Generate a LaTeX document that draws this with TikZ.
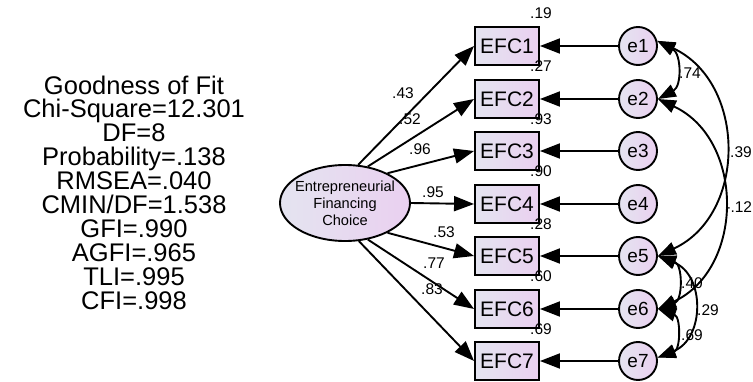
\documentclass[tikz,border=0pt]{standalone}
\usepackage{fontspec}
\setmainfont{Liberation Sans}
\usetikzlibrary{arrows.meta,shapes.geometric}
\definecolor{shadeL}{RGB}{228,228,240}
\definecolor{shadeR}{RGB}{234,208,240}
\begin{document}
\begin{tikzpicture}[x=1pt,y=1pt,line width=1.9pt,
  obs/.style={draw, rectangle, minimum width=64pt, minimum height=38pt, inner sep=0pt,
    left color=shadeL, right color=shadeR, font=\fontsize{21}{21}\selectfont},
  err/.style={draw, circle, minimum size=38pt, inner sep=0pt,
    left color=shadeL, right color=shadeR, font=\fontsize{19}{19}\selectfont},
  lat/.style={draw, ellipse, minimum width=130pt, minimum height=76pt, inner sep=0pt,
    left color=shadeL, right color=shadeR},
  lattext/.style={align=center, inner sep=0pt, font=\fontsize{14.6}{17}\selectfont},
  num/.style={inner sep=0pt, font=\fontsize{15.5}{15.5}\selectfont},
  fit/.style={align=center, inner sep=0pt, font=\fontsize{25.5}{23.9}\selectfont},
  pathar/.style={-{Triangle[length=20pt,width=15pt]}},
  covar/.style={{Triangle[length=18pt,width=13pt]}-{Triangle[length=18pt,width=13pt]}}
]
\useasboundingbox (0,0) rectangle (753,381);

% goodness of fit
\node[fit] (gof) at (134,188.5) {Goodness of Fit\\Chi-Square=12.301\\DF=8\\Probability=.138\\RMSEA=.040\\CMIN/DF=1.538\\GFI=.990\\AGFI=.965\\TLI=.995\\CFI=.998};

% latent
\node[lat] (F) at (345,178) {};
\node[lattext] (Ftext) at (F.center) {Entrepreneurial\\Financing\\Choice};

% observed and errors
\foreach \i/\y in {1/335,2/282,3/230,4/177,5/125,6/72,7/20}{
  \node[obs] (b\i) at (507,\y) {EFC\i};
  \node[err] (e\i) at (638,\y) {e\i};
  \draw[pathar] (e\i) -- (b\i);
}

% loadings
\foreach \i/\a in {1/71,2/58,3/35,4/0,5/-35,6/-58,7/-70}{
  \draw[pathar] (F.\a) -- (b\i.west);
}

% loading labels
\node[num] (l1) at (403,288) {.43};
\node[num] (l2) at (410,262) {.52};
\node[num] (l3) at (420,232) {.96};
\node[num] (l4) at (433,189) {.95};
\node[num] (l5) at (444,149) {.53};
\node[num] (l6) at (434,118) {.77};
\node[num] (l7) at (432,92) {.83};

% squared multiple correlations
\node[num] (r1) at (541,368) {.19};
\node[num] (r2) at (541,315) {.27};
\node[num] (r3) at (541,262) {.93};
\node[num] (r4) at (541,210) {.90};
\node[num] (r5) at (541,157) {.28};
\node[num] (r6) at (541,105) {.60};
\node[num] (r7) at (541,52) {.69};

% covariances
\draw[covar] (e1.15) to[out=-28,in=28,looseness=1.2] (e2.0);
\draw[covar] (e1.15) to[out=-25,in=25,looseness=1.17] (e5.0);
\draw[covar] (e2.0) to[out=-25,in=25,looseness=1.17] (e6.0);
\draw[covar] (e5.0) to[out=-19,in=19,looseness=1.28] (e6.0);
\draw[covar] (e6.0) to[out=-19,in=19,looseness=1.28] (e7.10);
\draw[covar] (e5.0) to[out=-22,in=22,looseness=1.28] (e7.10);

\node[num] (c12) at (690,308) {.74};
\node[num] (c15) at (741,229) {.39};
\node[num, anchor=east] (c26) at (753,174) {-.12};
\node[num] (c56) at (692,98) {.40};
\node[num] (c57) at (708,71) {.29};
\node[num] (c67) at (692,46) {.69};
\end{tikzpicture}
\end{document}
